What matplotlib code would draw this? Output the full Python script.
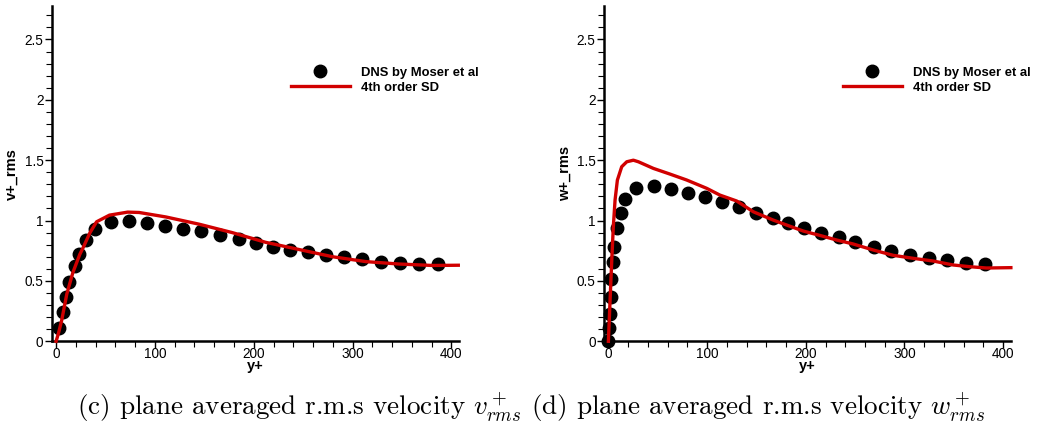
import matplotlib
matplotlib.use('Agg')
import matplotlib.pyplot as plt
from matplotlib.ticker import MultipleLocator, FormatStrFormatter

# DNS by Moser et al, v+_rms
dns_v_y = [3.4, 7.4, 10.1, 13.5, 18.9, 22.9, 30.3, 39.4, 55.3, 73.8, 91.7, 110.5,
           128.1, 146.3, 165.5, 185.4, 202.2, 219.7, 236.9, 254.8, 272.7, 291.2,
           309.7, 328.6, 347.8, 367.0, 386.6]
dns_v = [0.11, 0.245, 0.37, 0.49, 0.62, 0.72, 0.84, 0.927, 0.985, 0.996, 0.982, 0.954,
         0.932, 0.91, 0.877, 0.844, 0.811, 0.783, 0.756, 0.737, 0.712, 0.695,
         0.679, 0.659, 0.648, 0.64, 0.637]

# 4th order SD, v+_rms
sd_v_y = [0, 2.4, 5.7, 10.8, 17, 24, 27.6, 34.3, 41, 54, 72.5, 84, 111, 144.7, 178.4,
          212, 246, 280, 313.4, 347, 381, 407]
sd_v = [0, 0.066, 0.175, 0.39, 0.57, 0.72, 0.78, 0.9, 0.99, 1.045, 1.07, 1.067, 1.03,
        0.97, 0.90, 0.82, 0.76, 0.70, 0.66, 0.64, 0.628, 0.63]

# DNS by Moser et al, w+_rms
dns_w_y = [0, 1.0, 1.7, 2.4, 3.0, 4.4, 5.7, 8.4, 12.5, 17.2, 28.0, 45.9, 63.5, 80.3,
           97.9, 114.8, 132.0, 149.9, 167.1, 181.9, 198.5, 215.4, 233.6, 250.1,
           268.7, 286.6, 305.5, 324.4, 343.3, 362.2, 381.4]
dns_w = [0.0, 0.108, 0.23, 0.37, 0.52, 0.66, 0.78, 0.935, 1.065, 1.18, 1.272, 1.289,
         1.261, 1.231, 1.192, 1.156, 1.109, 1.06, 1.018, 0.982, 0.938, 0.894, 0.861,
         0.822, 0.784, 0.75, 0.715, 0.69, 0.67, 0.648, 0.637]

# 4th order SD, w+_rms
sd_w_y = [0, 1.7, 3.4, 5.0, 6.75, 9.1, 13.5, 18.6, 25.3, 30.4, 45.6, 62.4, 79.3, 99.6,
          113, 130, 146.8, 167, 180.6, 197.5, 214.3, 231.2, 248, 268.4, 288.6, 309,
          329, 349.4, 366, 383, 407.8]
sd_w = [0, 0.34, 0.67, 0.95, 1.17, 1.335, 1.446, 1.487, 1.5, 1.487, 1.432, 1.385,
        1.336, 1.267, 1.211, 1.162, 1.073, 1.004, 0.963, 0.913, 0.877, 0.839, 0.806,
        0.756, 0.712, 0.687, 0.665, 0.632, 0.618, 0.607, 0.61]

ylabels = ['v+_rms', 'w+_rms']
legend_labels = ['DNS by Moser et al', '4th order SD']
caption = (r'(c) plane averaged r.m.s velocity $v^+_{rms}$ '
           r'(d) plane averaged r.m.s velocity $w^+_{rms}$')

red = '#d10000'
plt.rcParams['font.family'] = 'Liberation Sans'
plt.rcParams['mathtext.fontset'] = 'cm'

fig = plt.figure(figsize=(10.37, 4.28), dpi=100)
ax1 = fig.add_axes([0.0499, 0.2026, 0.393, 0.783])
ax2 = fig.add_axes([0.5825, 0.2026, 0.3925, 0.783])

panels = [(ax1, dns_v_y, dns_v, sd_v_y, sd_v, ylabels[0]),
          (ax2, dns_w_y, dns_w, sd_w_y, sd_w, ylabels[1])]

for ax, dx, dy, sx, sy, ylab in panels:
    ax.plot(dx, dy, 'o', color='black', markersize=9, label=legend_labels[0],
            clip_on=False, zorder=2)
    ax.plot(sx, sy, '-', color=red, linewidth=2.4, label=legend_labels[1],
            clip_on=False, zorder=3)
    ax.set_xlim(-4.4, 408)
    ax.set_ylim(0, 2.776)
    for side in ['top', 'right']:
        ax.spines[side].set_visible(False)
    for side in ['left', 'bottom']:
        ax.spines[side].set_linewidth(1.8)
    ax.xaxis.set_major_locator(MultipleLocator(100))
    ax.xaxis.set_minor_locator(MultipleLocator(20))
    ax.yaxis.set_major_locator(MultipleLocator(0.5))
    ax.yaxis.set_minor_locator(MultipleLocator(0.1))
    ax.yaxis.set_major_formatter(FormatStrFormatter('%g'))
    ax.tick_params(which='major', direction='out', length=5, width=1.0,
                   labelsize=9.8, pad=1)
    ax.tick_params(which='minor', direction='out', length=4, width=0.8)
    ax.tick_params(axis='x', which='major', pad=-1)
    ax.set_xlabel('y+', fontsize=10.5, fontweight='bold', labelpad=-1)
    ax.set_ylabel(ylab, fontsize=10.5, fontweight='bold', labelpad=4)
    leg = ax.legend(loc='upper left', bbox_to_anchor=(0.587, 0.82), frameon=False,
                    borderpad=0, borderaxespad=0, handlelength=4.5,
                    handletextpad=0.85, labelspacing=0.25,
                    prop={'weight': 'bold', 'size': 9.4})

fig.text(0.512, 0.047, caption, family='cmr10', fontsize=19.5, ha='center', va='center')

fig.savefig('out.png', dpi=100)
